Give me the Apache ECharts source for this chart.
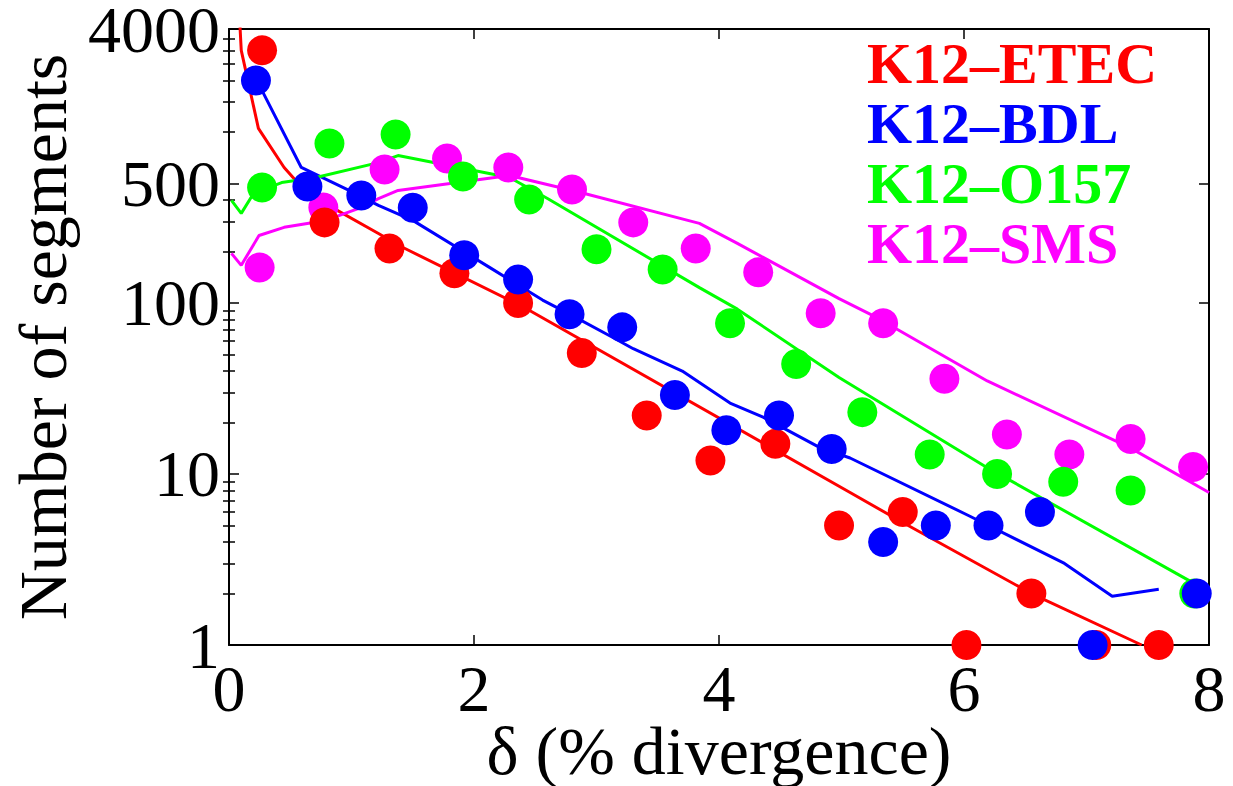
<!DOCTYPE html>
<html><head><meta charset="utf-8">
<script src="https://cdn.jsdelivr.net/npm/echarts@6/dist/echarts.min.js"></script>
<style>html,body{margin:0;padding:0;background:#fff}#c{width:1233px;height:786px;background:#fff;font-family:"Liberation Serif",serif}</style>
</head><body><div id="c"></div><script>
// ---- data ----
const seriesNames = ['K12–ETEC', 'K12–BDL', 'K12–O157', 'K12–SMS'];
const seriesColors = ['#ff0000', '#0000ff', '#00ff00', '#ff00ff'];

// observed points
const etecX = [0.27, 0.78, 1.31, 1.84, 2.36, 2.88, 3.41, 3.93, 4.46, 4.98, 5.50, 6.02, 6.55, 7.08, 7.59];
const etecY = [3000, 296, 208, 149, 100, 51, 22, 12, 15, 5, 6, 1, 2, 1, 1];
const bdlX = [0.22, 0.64, 1.08, 1.50, 1.92, 2.36, 2.78, 3.21, 3.64, 4.06, 4.49, 4.92, 5.34, 5.77, 6.20, 6.62, 7.05, 7.90];
const bdlY = [2000, 480, 425, 360, 190, 137, 86, 72, 29, 18, 22, 14, 4, 5, 5, 6, 1, 2];
const o157X = [0.27, 0.82, 1.36, 1.91, 2.45, 3.00, 3.54, 4.09, 4.63, 5.17, 5.72, 6.27, 6.81, 7.36, 7.88];
const o157Y = [473, 855, 966, 549, 403, 206, 157, 76, 44, 23, 13, 10, 9, 8, 2];
const smsX = [0.25, 0.77, 1.27, 1.78, 2.28, 2.80, 3.30, 3.81, 4.32, 4.83, 5.34, 5.84, 6.35, 6.86, 7.36, 7.87];
const smsY = [161, 362, 603, 700, 620, 461, 296, 208, 151, 87, 76, 36, 17, 13, 16, 11];

// model curves
const etecLineX = [0.09, 0.10, 0.24, 0.45, 0.55, 0.79, 1.22, 1.42, 2.40, 5.07, 5.50, 6.55, 7.45];
const etecLineY = [4100, 3000, 1050, 620, 515, 380, 255, 211, 95, 7.8, 5.2, 2.0, 1.0];
const bdlLineX = [0.22, 0.59, 0.98, 1.22, 1.50, 2.13, 2.56, 2.78, 3.13, 3.30, 3.70, 4.09, 4.36, 4.82, 5.07, 6.04, 6.82, 7.21, 7.59];
const bdlLineY = [2050, 620, 455, 372, 304, 161, 104, 86, 63, 54, 40, 26, 21.5, 14.3, 12.4, 5.7, 3.0, 1.93, 2.12];
const o157LineX = [0.02, 0.10, 0.20, 0.43, 0.71, 1.22, 1.38, 2.29, 2.60, 3.84, 4.15, 4.98, 6.18, 7.86, 8.00];
const o157LineY = [398, 334, 437, 506, 542, 662, 728, 542, 408, 123, 92, 36.7, 11, 2.33, 2.0];
const smsLineX = [0.02, 0.10, 0.245, 0.45, 0.79, 1.06, 1.22, 1.38, 2.29, 2.87, 3.84, 4.15, 4.98, 5.29, 6.19, 7.35, 8.00];
const smsLineY = [195, 166, 248, 277, 304, 357, 408, 455, 556, 443, 292, 223, 106, 82, 35, 14.3, 7.8];

// axes ticks
const yMajorTicks = [1, 10, 100, 500, 4000];
const yMinorTicks = [2, 3, 4, 5, 6, 7, 8, 9, 20, 30, 40, 50, 60, 70, 80, 90, 200, 300, 400, 1000, 1500, 2000, 2500, 3000, 3500];

// ---- chart ----
const FONT = 'Liberation Serif';
const pairs = (xs, ys) => xs.map((x, i) => [x, ys[i]]);
const pts = [pairs(etecX, etecY), pairs(bdlX, bdlY), pairs(o157X, o157Y), pairs(smsX, smsY)];
const lines = [pairs(etecLineX, etecLineY), pairs(bdlLineX, bdlLineY), pairs(o157LineX, o157LineY), pairs(smsLineX, smsLineY)];

const axisLine = { show: true, onZero: false, lineStyle: { color: '#000', width: 2 } };
const tickStyle = { color: '#000', width: 1.5 };
const labelFont = { color: '#000', fontFamily: FONT, fontSize: 66 };
const nameFont = { color: '#000', fontFamily: FONT, fontSize: 68 };

function yAx(pos, ticks, len, withLabels, showLine) {
  const a = {
    type: 'log', logBase: 10, min: 1, max: 4000, position: pos,
    axisLine: showLine ? axisLine : { show: false },
    axisTick: { show: true, inside: true, length: len, customValues: ticks, lineStyle: tickStyle },
    minorTick: { show: false }, splitLine: { show: false },
    axisLabel: withLabels ? Object.assign({
      customValues: yMajorTicks, margin: 9, formatter: v => String(Math.round(v))
    }, labelFont) : { show: false }
  };
  if (withLabels) {
    a.name = 'Number of segments';
    a.nameLocation = 'middle';
    a.nameGap = 152;
    a.nameMoveOverlap = false;
    a.nameTextStyle = nameFont;
  }
  return a;
}

const series = [];
lines.forEach((d, i) => series.push({
  name: seriesNames[i], type: 'line', data: d, showSymbol: false, symbol: 'none',
  lineStyle: { color: seriesColors[i], width: 3 }, itemStyle: { color: seriesColors[i] }, z: 2
}));
[3, 2, 0, 1].forEach(i => series.push({
  name: seriesNames[i], type: 'scatter', data: pts[i], symbol: 'circle', symbolSize: 30,
  itemStyle: { color: seriesColors[i], opacity: 1 }, z: 3
}));

// legend labels as text elements
const legendText = seriesNames.map((n, i) => ({
  type: 'text', x: 867, y: 63 + 60 * i, z: 10,
  style: { text: n, fill: seriesColors[i], fontFamily: FONT, fontSize: 58, fontWeight: 'bold', verticalAlign: 'middle', align: 'left' }
}));

const chart = echarts.init(document.getElementById('c'), null, { renderer: 'svg' });
chart.setOption({
  animation: false,
  textStyle: { fontFamily: FONT },
  grid: { left: 229, right: 24, top: 29, bottom: 141, outerBoundsMode: 'none' },
  xAxis: [
    {
      type: 'value', min: 0, max: 8, interval: 2, position: 'bottom',
      axisLine: axisLine,
      axisTick: { show: true, inside: true, length: 10, lineStyle: tickStyle },
      splitLine: { show: false },
      axisLabel: Object.assign({ margin: 10 }, labelFont),
      name: 'δ (% divergence)', nameLocation: 'middle', nameGap: 72, nameMoveOverlap: false,
      nameTextStyle: nameFont
    },
    {
      type: 'value', min: 0, max: 8, interval: 2, position: 'top',
      axisLine: axisLine,
      axisTick: { show: true, inside: true, length: 10, lineStyle: tickStyle },
      splitLine: { show: false }, axisLabel: { show: false }
    }
  ],
  yAxis: [
    yAx('left', yMajorTicks, 10, true, true),
    yAx('left', yMinorTicks, 6, false, false),
    yAx('right', yMajorTicks, 10, false, true),
    yAx('right', yMinorTicks, 6, false, false)
  ],
  graphic: legendText,
  series: series
});
</script></body></html>
